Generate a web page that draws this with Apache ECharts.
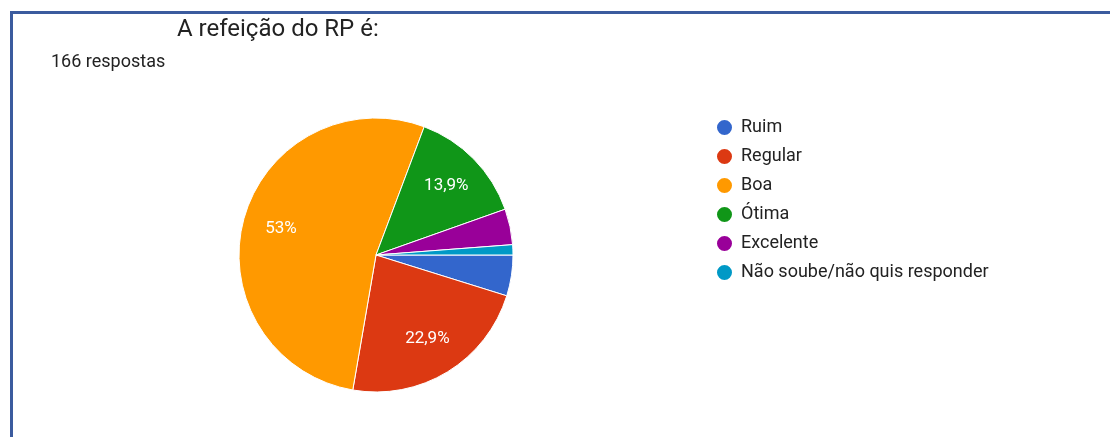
<!DOCTYPE html>
<html>
<head>
<meta charset="utf-8">
<script src="https://cdn.jsdelivr.net/npm/echarts@6/dist/echarts.min.js"></script>
<style>
  html, body { margin: 0; padding: 0; background: #fff; }
  #chart { width: 1110px; height: 437px; position: relative; }
  .frame {
    position: absolute; left: 10px; top: 11px; right: 0; bottom: 0;
    border-top: 3px solid #3b5b9e; border-left: 3px solid #3b5b9e;
    pointer-events: none; z-index: 5;
  }
</style>
</head>
<body>
<div id="chart"></div>
<div class="frame"></div>
<script>
const categories = ['Ruim', 'Regular', 'Boa', 'Ótima', 'Excelente', 'Não soube/não quis responder']
const counts = [8, 38, 88, 23, 7, 2]
const colors = ['#3366cc', '#dc3912', '#ff9900', '#109618', '#990099', '#0099c6']
const totalAnswers = counts.reduce((a, b) => a + b, 0)

const pieData = categories.map((name, i) => ({ name, value: counts[i], itemStyle: { color: colors[i] } }))

function pctLabel(p) {
  const v = p.value / totalAnswers * 100
  if (v < 5) return ''
  const r = Math.round(v * 10) / 10
  return String(r).replace('.', ',') + '%'
}

const chart = echarts.init(document.getElementById('chart'), null, { renderer: 'canvas' })
chart.setOption({
  animation: false,
  title: [
    {
      text: 'A refeição do RP é:',
      left: 172, top: 13,
      textStyle: { fontFamily: 'Roboto', fontSize: 24, fontWeight: 'normal', color: '#222' },
    },
    {
      text: totalAnswers + ' respostas',
      left: 46, top: 48,
      textStyle: { fontFamily: 'Roboto', fontSize: 18, fontWeight: 'normal', color: '#222' },
    },
  ],
  legend: {
    orient: 'vertical',
    left: 710, top: 113,
    icon: 'circle',
    itemWidth: 17, itemHeight: 17,
    itemGap: 10,
    data: categories,
    selectedMode: false,
    textStyle: { fontFamily: 'Roboto', fontSize: 18, color: '#222', padding: [0, 0, 0, 3] },
  },
  series: [
    {
      type: 'pie',
      center: [376, 255],
      radius: 137,
      startAngle: 0,
      clockwise: true,
      data: pieData,
      label: { show: false },
      labelLine: { show: false },
      itemStyle: { borderColor: '#fff', borderWidth: 1 },
      emphasis: { disabled: true },
    },
    {
      // label-only ring so the percentages sit at ~0.7 r
      type: 'pie',
      center: [376, 255],
      radius: [54, 137],
      startAngle: 0,
      clockwise: true,
      silent: true,
      data: categories.map((name, i) => ({ name, value: counts[i] })),
      itemStyle: { color: 'rgba(0,0,0,0)', borderWidth: 0 },
      label: {
        show: true,
        position: 'inside',
        formatter: pctLabel,
        fontFamily: 'Roboto',
        fontSize: 17,
        color: '#fff',
      },
      labelLine: { show: false },
      emphasis: { disabled: true },
    },
  ],
})
</script>
</body>
</html>
